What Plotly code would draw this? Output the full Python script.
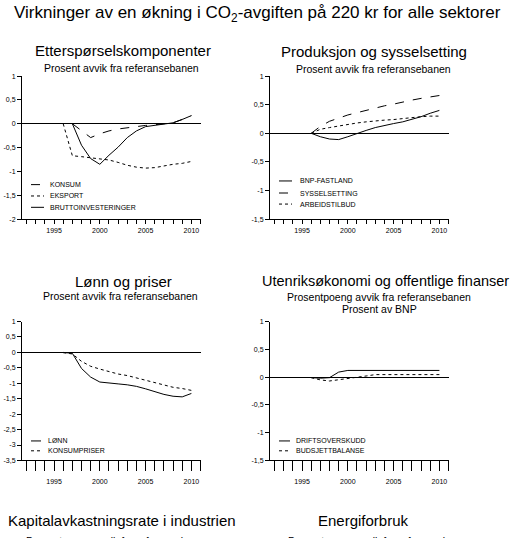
import plotly.graph_objects as go

# --- data ---
years_a = [1996, 1997, 1998, 1999, 2000, 2001, 2002, 2003, 2004, 2005, 2006, 2007, 2008, 2009, 2010]
years_b = [1997, 1998, 1999, 2000, 2001, 2002, 2003, 2004, 2005, 2006, 2007, 2008, 2009, 2010]

# Etterspørselskomponenter
konsum = [0, -0.15, -0.29, -0.21, -0.15, -0.11, -0.08, -0.06, -0.035, -0.02, 0.0, 0.02, 0.09, 0.17]
eksport = [0, -0.67, -0.69, -0.71, -0.73, -0.76, -0.81, -0.87, -0.91, -0.93, -0.92, -0.88, -0.85, -0.83, -0.79]
brutto = [0, -0.45, -0.73, -0.85, -0.66, -0.49, -0.29, -0.15, -0.06, -0.03, -0.01, 0.02, 0.09, 0.17]

# Produksjon og sysselsetting
bnp = [0, -0.06, -0.10, -0.11, -0.06, 0.0, 0.05, 0.10, 0.14, 0.17, 0.20, 0.24, 0.29, 0.35, 0.40]
syssel = [0, 0.12, 0.21, 0.27, 0.32, 0.36, 0.40, 0.45, 0.48, 0.51, 0.55, 0.58, 0.61, 0.64, 0.66]
arbeid = [0, 0.07, 0.10, 0.13, 0.16, 0.18, 0.20, 0.22, 0.23, 0.24, 0.26, 0.27, 0.29, 0.30, 0.30]

# Lønn og priser
lonn = [0, -0.03, -0.52, -0.80, -0.96, -1.00, -1.02, -1.05, -1.10, -1.18, -1.27, -1.36, -1.42, -1.44, -1.33]
kpi = [-0.01, -0.05, -0.29, -0.45, -0.54, -0.63, -0.70, -0.75, -0.83, -0.91, -0.99, -1.06, -1.13, -1.17, -1.23]

# Utenriksøkonomi og offentlige finanser
drift = [-0.01, -0.02, -0.01, 0.09, 0.12, 0.12, 0.12, 0.12, 0.12, 0.12, 0.12, 0.12, 0.12, 0.12, 0.12]
budsjett = [-0.01, -0.05, -0.07, -0.05, -0.02, 0.0, 0.02, 0.045, 0.045, 0.045, 0.045, 0.045, 0.045, 0.045, 0.045]

# tick labels
year_major = [1995, 2000, 2005, 2010]
year_labels = ['1995', '2000', '2005', '2010']
ticks_2 = [1, 0.5, 0, -0.5, -1, -1.5, -2]
labels_2 = ['1', '0,5', '0', '-0,5', '-1', '-1,5', '-2']
ticks_15 = [1, 0.5, 0, -0.5, -1, -1.5]
labels_15 = ['1', '0,5', '0', '-0,5', '-1', '-1,5']
ticks_35 = [1, 0.5, 0, -0.5, -1, -1.5, -2, -2.5, -3, -3.5]
labels_35 = ['1', '0,5', '0', '-0,5', '-1', '-1,5', '-2', '-2,5', '-3', '-3,5']

W, H = 512, 538
FONT = 'Liberation Sans'


def px(x):
    return x / W


def py(y):
    return 1 - y / H


line = dict(color='black', width=1)

fig = go.Figure()

# panel 1
fig.add_trace(go.Scatter(x=years_b, y=konsum, mode='lines', line=dict(line, dash='dash'), xaxis='x', yaxis='y'))
fig.add_trace(go.Scatter(x=years_a, y=eksport, mode='lines', line=dict(line, dash='dot'), xaxis='x', yaxis='y'))
fig.add_trace(go.Scatter(x=years_b, y=brutto, mode='lines', line=line, xaxis='x', yaxis='y'))
# panel 2
fig.add_trace(go.Scatter(x=years_a, y=bnp, mode='lines', line=line, xaxis='x2', yaxis='y2'))
fig.add_trace(go.Scatter(x=years_a, y=syssel, mode='lines', line=dict(line, dash='dash'), xaxis='x2', yaxis='y2'))
fig.add_trace(go.Scatter(x=years_a, y=arbeid, mode='lines', line=dict(line, dash='dot'), xaxis='x2', yaxis='y2'))
# panel 3
fig.add_trace(go.Scatter(x=years_a, y=lonn, mode='lines', line=line, xaxis='x3', yaxis='y3'))
fig.add_trace(go.Scatter(x=years_a, y=kpi, mode='lines', line=dict(line, dash='dot'), xaxis='x3', yaxis='y3'))
# panel 4
fig.add_trace(go.Scatter(x=years_a, y=drift, mode='lines', line=line, xaxis='x4', yaxis='y4'))
fig.add_trace(go.Scatter(x=years_a, y=budsjett, mode='lines', line=dict(line, dash='dot'), xaxis='x4', yaxis='y4'))


def xax(dom, anchor, ticklen, standoff):
    return dict(domain=dom, anchor=anchor, range=[1991.5, 2011.05],
                tickvals=year_major, ticktext=year_labels,
                ticks='outside', ticklen=ticklen, tickcolor='black', ticklabelstandoff=standoff,
                minor=dict(ticks='outside', ticklen=ticklen, tickcolor='black', tick0=1992, dtick=1, showgrid=False),
                showline=True, linecolor='black', linewidth=1,
                showgrid=False, zeroline=False,
                tickfont=dict(family=FONT, size=7, color='black'))


def yax(dom, anchor, rng, tv, tt):
    return dict(domain=dom, anchor=anchor, range=rng,
                tickvals=tv, ticktext=tt,
                ticks='outside', ticklen=4, tickcolor='black',
                showline=True, linecolor='black', linewidth=1,
                showgrid=False, zeroline=True, zerolinecolor='black', zerolinewidth=1.3,
                tickfont=dict(family=FONT, size=7, color='black'))


left = [px(22), px(201)]
right = [px(270), px(449)]
top = [py(218), py(73)]
bottom = [py(462.5), py(321.7)]

fig.update_layout(
    width=W, height=H,
    margin=dict(l=0, r=0, t=0, b=0),
    paper_bgcolor='white', plot_bgcolor='white',
    showlegend=False,
    font=dict(family=FONT, color='black'),
    xaxis=xax(left, 'y', 4, 0),
    yaxis=yax(top, 'x', [-2, 1], ticks_2, labels_2),
    xaxis2=xax(right, 'y2', 4, 0),
    yaxis2=yax(top, 'x2', [-1.5, 1], ticks_15, labels_15),
    xaxis3=xax(left, 'y3', 10, 4),
    yaxis3=yax(bottom, 'x3', [-3.5, 1], ticks_35, labels_35),
    xaxis4=xax(right, 'y4', 10, 4),
    yaxis4=yax(bottom, 'x4', [-1.5, 1], ticks_15, labels_15),
)

# titles
texts = [
    ('Virkninger av en økning i CO<sub>2</sub>-avgiften på 220 kr for alle sektorer', 257, 10, 17),
    ('Etterspørselskomponenter', 123, 47, 15),
    ('Prosent avvik fra referansebanen', 121, 65, 10.5),
    ('Produksjon og sysselsetting', 374, 48, 15),
    ('Prosent avvik fra referansebanen', 373, 66, 10.5),
    ('Lønn og priser', 123, 281, 15),
    ('Prosent avvik fra referansebanen', 120, 296, 10.5),
    ('Utenriksøkonomi og offentlige finanser', 385, 281, 14.5),
    ('Prosentpoeng avvik fra referansebanen', 379, 297, 10.5),
    ('Prosent av BNP', 379, 309, 10.5),
    ('Kapitalavkastningsrate i industrien', 122, 523, 15),
    ('Energiforbruk', 363, 523, 15),
]
for t, x, y, s in texts:
    fig.add_annotation(text=t, x=px(x), y=py(y), xref='paper', yref='paper',
                       xanchor='center', yanchor='middle', showarrow=False,
                       font=dict(family=FONT, size=s, color='black'))

# subtitles of the lower panels, cut by the bottom edge as in the reference
for x in (118, 380):
    fig.add_annotation(text='Prosentpoeng avvik fra referansebanen', x=px(x), y=py(535.5),
                       xref='paper', yref='paper', xanchor='center', yanchor='top',
                       showarrow=False, font=dict(family=FONT, size=10.5, color='black'))

# legends (sample line + label) for each panel
legends = [
    (31, 44, 48, [('KONSUM', 183, 'dash'), ('EKSPORT', 194.5, 'dot'), ('BRUTTOINVESTERINGER', 206, 'solid')]),
    (279, 292, 298, [('BNP-FASTLAND', 179.3, 'solid'), ('SYSSELSETTING', 191.5, 'dash'), ('ARBEIDSTILBUD', 202.7, 'dot')]),
    (31, 41, 46, [('LØNN', 442.7, 'solid'), ('KONSUMPRISER', 452.7, 'dot')]),
    (279, 290, 294, [('DRIFTSOVERSKUDD', 442.7, 'solid'), ('BUDSJETTBALANSE', 452.7, 'dot')]),
]
for x0, x1, xt, items in legends:
    for name, y, dash in items:
        fig.add_shape(type='line', xref='paper', yref='paper',
                      x0=px(x0), x1=px(x1), y0=py(y), y1=py(y),
                      line=dict(color='black', width=1, dash=dash))
        fig.add_annotation(text=name, x=px(xt), y=py(y), xref='paper', yref='paper',
                           xanchor='left', yanchor='middle', showarrow=False,
                           font=dict(family=FONT, size=7, color='black'))

fig.write_html("out.html", config={'displayModeBar': False},
               post_script="document.body.style.margin='0';")
